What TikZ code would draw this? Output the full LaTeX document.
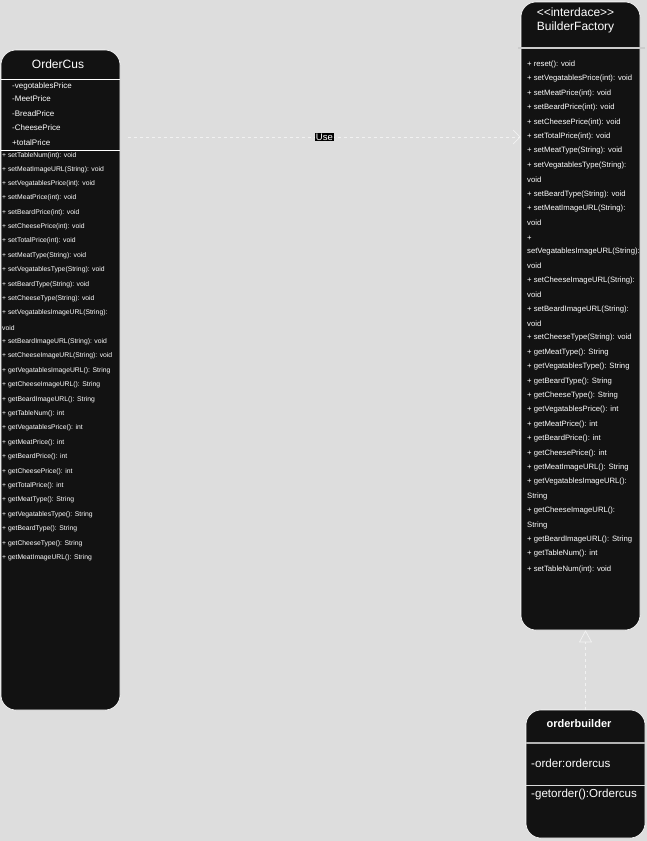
\documentclass[tikz,border=0pt]{standalone}
\usepackage{fontspec}
\setmainfont{Liberation Sans}
\usetikzlibrary{arrows.meta}

\definecolor{canvas}{HTML}{DDDDDD}
\definecolor{boxfill}{HTML}{121212}
\definecolor{txt}{HTML}{FFFFFF}

\tikzset{
  classbox/.style={draw=white, line width=0.6pt, fill=boxfill, rounded corners=15pt, inner sep=0pt},
  divider/.style={draw=white, line width=0.8pt},
  title/.style={inner sep=0pt, text=txt, font=\fontsize{12}{14}\selectfont},
  attr/.style={anchor=west, inner sep=0pt, text=txt, font=\fontsize{8}{9}\selectfont},
  ocmeth/.style={anchor=west, inner sep=0pt, text=txt, font=\fontsize{6.8}{8}\selectfont},
  bfmeth/.style={anchor=west, inner sep=0pt, text=txt, font=\fontsize{7.7}{9}\selectfont},
  obitem/.style={anchor=west, inner sep=0pt, text=txt, font=\fontsize{11.6}{13}\selectfont},
  usedep/.style={draw=white!95!black, line width=0.7pt, dash pattern=on 3pt off 3pt, -{Straight Barb[length=7pt,width=14pt]}},
  uselabel/.style={fill=black, text=white, inner sep=1pt, font=\fontsize{9.5}{10}\selectfont},
  realize/.style={draw=white!95!black, line width=0.7pt, dash pattern=on 3pt off 3pt, -{Triangle[open, fill=canvas, length=12pt, width=13pt]}}
}

\begin{document}
\begin{tikzpicture}[x=1pt, y=-1pt]

\path[fill=canvas] (0,0) rectangle (647,841);

% OrderCus
\node[classbox, minimum width=119pt, minimum height=660pt] (ordercus) at (60.5,380) {};
\node[title] (octitle) at (58,64) {OrderCus};
\draw[divider] (ordercus.west |- 0,79) -- (ordercus.east |- 0,79);
\draw[divider] (ordercus.west |- 0,150) -- (ordercus.east |- 0,150);
\node[attr] (oca1) at (12,86) {-vegotablesPrice};
\node[attr] (oca2) at (12,99) {-MeetPrice};
\node[attr] (oca3) at (12,114) {-BreadPrice};
\node[attr] (oca4) at (12,128) {-CheesePrice};
\node[attr] (oca5) at (12,143) {+totalPrice};
\node[ocmeth] (ocm1) at (2,156) {+ setTableNum(int): void};
\node[ocmeth] (ocm2) at (2,170) {+ setMeatImageURL(String): void};
\node[ocmeth] (ocm3) at (2,184) {+ setVegatablesPrice(int): void};
\node[ocmeth] (ocm4) at (2,198) {+ setMeatPrice(int): void};
\node[ocmeth] (ocm5) at (2,213) {+ setBeardPrice(int): void};
\node[ocmeth] (ocm6) at (2,227) {+ setCheesePrice(int): void};
\node[ocmeth] (ocm7) at (2,241) {+ setTotalPrice(int): void};
\node[ocmeth] (ocm8) at (2,256) {+ setMeatType(String): void};
\node[ocmeth] (ocm9) at (2,270) {+ setVegatablesType(String): void};
\node[ocmeth] (ocm10) at (2,285) {+ setBeardType(String): void};
\node[ocmeth] (ocm11) at (2,299) {+ setCheeseType(String): void};
\node[ocmeth] (ocm12) at (2,313) {+ setVegatablesImageURL(String):};
\node[ocmeth] (ocm13) at (2,328) {void};
\node[ocmeth] (ocm14) at (2,342) {+ setBeardImageURL(String): void};
\node[ocmeth] (ocm15) at (2,356) {+ setCheeseImageURL(String): void};
\node[ocmeth] (ocm16) at (2,371) {+ getVegatablesImageURL(): String};
\node[ocmeth] (ocm17) at (2,385) {+ getCheeseImageURL(): String};
\node[ocmeth] (ocm18) at (2,400) {+ getBeardImageURL(): String};
\node[ocmeth] (ocm19) at (2,414) {+ getTableNum(): int};
\node[ocmeth] (ocm20) at (2,428) {+ getVegatablesPrice(): int};
\node[ocmeth] (ocm21) at (2,443) {+ getMeatPrice(): int};
\node[ocmeth] (ocm22) at (2,457) {+ getBeardPrice(): int};
\node[ocmeth] (ocm23) at (2,472) {+ getCheesePrice(): int};
\node[ocmeth] (ocm24) at (2,486) {+ getTotalPrice(): int};
\node[ocmeth] (ocm25) at (2,500) {+ getMeatType(): String};
\node[ocmeth] (ocm26) at (2,515) {+ getVegatablesType(): String};
\node[ocmeth] (ocm27) at (2,529) {+ getBeardType(): String};
\node[ocmeth] (ocm28) at (2,544) {+ getCheeseType(): String};
\node[ocmeth] (ocm29) at (2,558) {+ getMeatImageURL(): String};

% BuilderFactory
\node[classbox, minimum width=119pt, minimum height=628pt] (factory) at (580.5,316) {};
\node[title, align=center] (bftitle) at (575.5,20) {<\kern0pt<interdace>\kern0pt>\\BuilderFactory};
\draw[divider, draw=white!80!black, line width=1.5pt] (518,48) -- (645,48);
\node[bfmeth] (bfm1) at (527,65) {+ reset(): void};
\node[bfmeth] (bfm2) at (527,79) {+ setVegatablesPrice(int): void};
\node[bfmeth] (bfm3) at (527,94) {+ setMeatPrice(int): void};
\node[bfmeth] (bfm4) at (527,108) {+ setBeardPrice(int): void};
\node[bfmeth] (bfm5) at (527,123) {+ setCheesePrice(int): void};
\node[bfmeth] (bfm6) at (527,137) {+ setTotalPrice(int): void};
\node[bfmeth] (bfm7) at (527,151) {+ setMeatType(String): void};
\node[bfmeth] (bfm8) at (527,166) {+ setVegatablesType(String):};
\node[bfmeth] (bfm9) at (527,180) {void};
\node[bfmeth] (bfm10) at (527,195) {+ setBeardType(String): void};
\node[bfmeth] (bfm11) at (527,209) {+ setMeatImageURL(String):};
\node[bfmeth] (bfm12) at (527,223) {void};
\node[bfmeth] (bfm13) at (527,238) {+};
\node[bfmeth] (bfm14) at (527,252) {setVegatablesImageURL(String):};
\node[bfmeth] (bfm15) at (527,266) {void};
\node[bfmeth] (bfm16) at (527,281) {+ setCheeseImageURL(String):};
\node[bfmeth] (bfm17) at (527,295) {void};
\node[bfmeth] (bfm18) at (527,310) {+ setBeardImageURL(String):};
\node[bfmeth] (bfm19) at (527,324) {void};
\node[bfmeth] (bfm20) at (527,338) {+ setCheeseType(String): void};
\node[bfmeth] (bfm21) at (527,353) {+ getMeatType(): String};
\node[bfmeth] (bfm22) at (527,367) {+ getVegatablesType(): String};
\node[bfmeth] (bfm23) at (527,382) {+ getBeardType(): String};
\node[bfmeth] (bfm24) at (527,396) {+ getCheeseType(): String};
\node[bfmeth] (bfm25) at (527,410) {+ getVegatablesPrice(): int};
\node[bfmeth] (bfm26) at (527,425) {+ getMeatPrice(): int};
\node[bfmeth] (bfm27) at (527,439) {+ getBeardPrice(): int};
\node[bfmeth] (bfm28) at (527,454) {+ getCheesePrice(): int};
\node[bfmeth] (bfm29) at (527,468) {+ getMeatImageURL(): String};
\node[bfmeth] (bfm30) at (527,482) {+ getVegatablesImageURL():};
\node[bfmeth] (bfm31) at (527,497) {String};
\node[bfmeth] (bfm32) at (527,511) {+ getCheeseImageURL():};
\node[bfmeth] (bfm33) at (527,526) {String};
\node[bfmeth] (bfm34) at (527,540) {+ getBeardImageURL(): String};
\node[bfmeth] (bfm35) at (527,554) {+ getTableNum(): int};
\node[bfmeth] (bfm36) at (527,569) {+ setTableNum(int): void};

% orderbuilder
\node[classbox, minimum width=119pt, minimum height=128pt] (builder) at (585.5,774) {};
\node[title, font=\bfseries\fontsize{11}{13}\selectfont] (obtitle) at (579,724) {orderbuilder};
\draw[divider, draw=white!70!black, line width=1.5pt] (builder.west |- 0,743) -- (builder.east |- 0,743);
\node[obitem] (obattr) at (531,763) {-order:ordercus};
\draw[divider, draw=white!85!black, line width=1pt] (builder.west |- 0,785) -- (builder.east |- 0,785);
\node[obitem] (obmeth) at (531,794) {-getorder():Ordercus};

% connectors
\coordinate (usestart) at (128,137);
\draw[usedep] (usestart) -- (usestart -| factory.west) node[uselabel, midway] (uselbl) {Use};
\draw[realize] (builder.north) -- (builder.north |- factory.south);

\end{tikzpicture}
\end{document}
